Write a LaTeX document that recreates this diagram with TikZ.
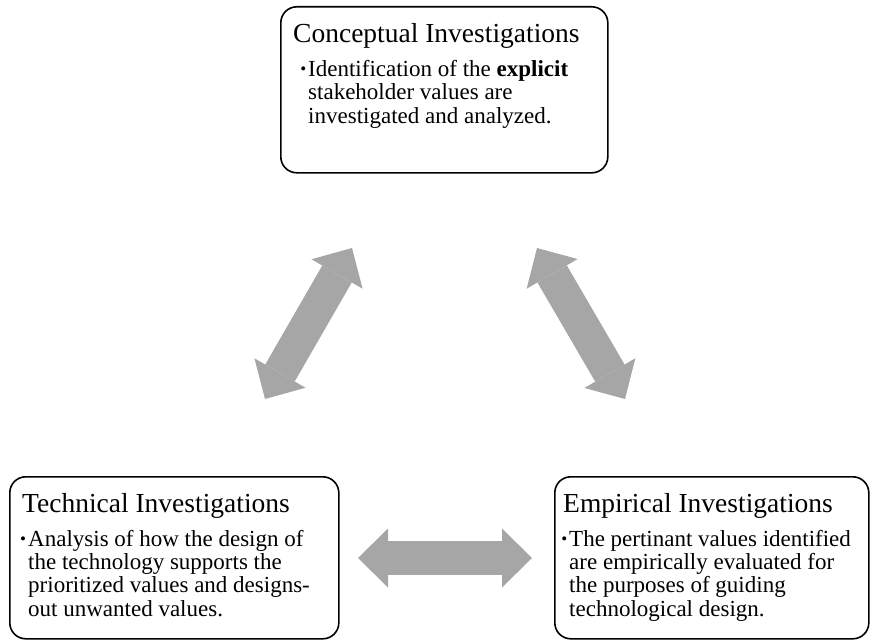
\documentclass[tikz,border=0pt]{standalone}
\usepackage{fontspec}
\setmainfont{Liberation Serif}
\usetikzlibrary{arrows.meta}
\definecolor{arrowgray}{RGB}{166,166,166}
\newcommand{\itemdot}{\llap{\raisebox{1.5pt}{\fontsize{17}{17}\selectfont\textbullet}\kern2pt}}
\tikzset{stage/.style={draw, line width=1.6pt, rounded corners=16pt, anchor=north west, inner sep=0pt}}
\tikzset{heading/.style={anchor=base west, inner sep=0pt, font=\fontsize{27.5}{30}\selectfont}}
% base of a multi-line node is its last line
\tikzset{point/.style={anchor=base west, inner sep=0pt, align=left, font=\fontsize{23}{23.3}\selectfont}}
\tikzset{twoway/.style={draw=arrowgray, line width=34pt,
  {Triangle[length=30pt,width=59pt,line width=0pt]}-{Triangle[length=30pt,width=59pt,line width=0pt]}}}

\begin{document}
\begin{tikzpicture}[x=1pt, y=-1pt]
        \useasboundingbox (0,0) rectangle (872,642);
        % the three investigations
        \node[stage, minimum width=327pt, minimum height=166pt] (concept) at (280,6) {};
        \node[heading] (concept-title) at ([xshift=13pt,yshift=-36pt]concept.north west)
            {Conceptual Investigations};
        \node[point] (concept-text) at ([xshift=28pt,yshift=-117pt]concept.north west)
            {\itemdot Identification of the \textbf{explicit}\\
             stakeholder values are\\
             investigated and analyzed.};
        \node[stage, minimum width=329pt, minimum height=162pt] (technical) at (9,476) {};
        \node[heading] (technical-title) at ([xshift=13pt,yshift=-36pt]technical.north west)
            {Technical Investigations};
        \node[point] (technical-text) at ([xshift=19pt,yshift=-140pt]technical.north west)
            {\itemdot Analysis of how the design of\\
             the technology supports the\\
             prioritized values and designs-\\
             out unwanted values.};
        \node[stage, minimum width=314pt, minimum height=162pt] (empirical) at (554,476) {};
        \node[heading] (empirical-title) at ([xshift=9pt,yshift=-36pt]empirical.north west)
            {Empirical Investigations};
        \node[point] (empirical-text) at ([xshift=15pt,yshift=-140pt]empirical.north west)
            {\itemdot The pertinant values identified\\
             are empirically evaluated for\\
             the purposes of guiding\\
             technological design.};
        % ends of the arrows
        \coordinate (ct-c) at (352,248);
        \coordinate (ct-t) at (265,399);
        \coordinate (ce-c) at (537,248);
        \coordinate (ce-e) at (625,399);
        \coordinate (te-t) at (358,558);
        \coordinate (te-e) at (532,558);
        \draw[twoway] (ct-t) -- (ct-c);
        \draw[twoway] (ce-c) -- (ce-e);
        \draw[twoway] (te-t) -- (te-e);
\end{tikzpicture}
\end{document}
